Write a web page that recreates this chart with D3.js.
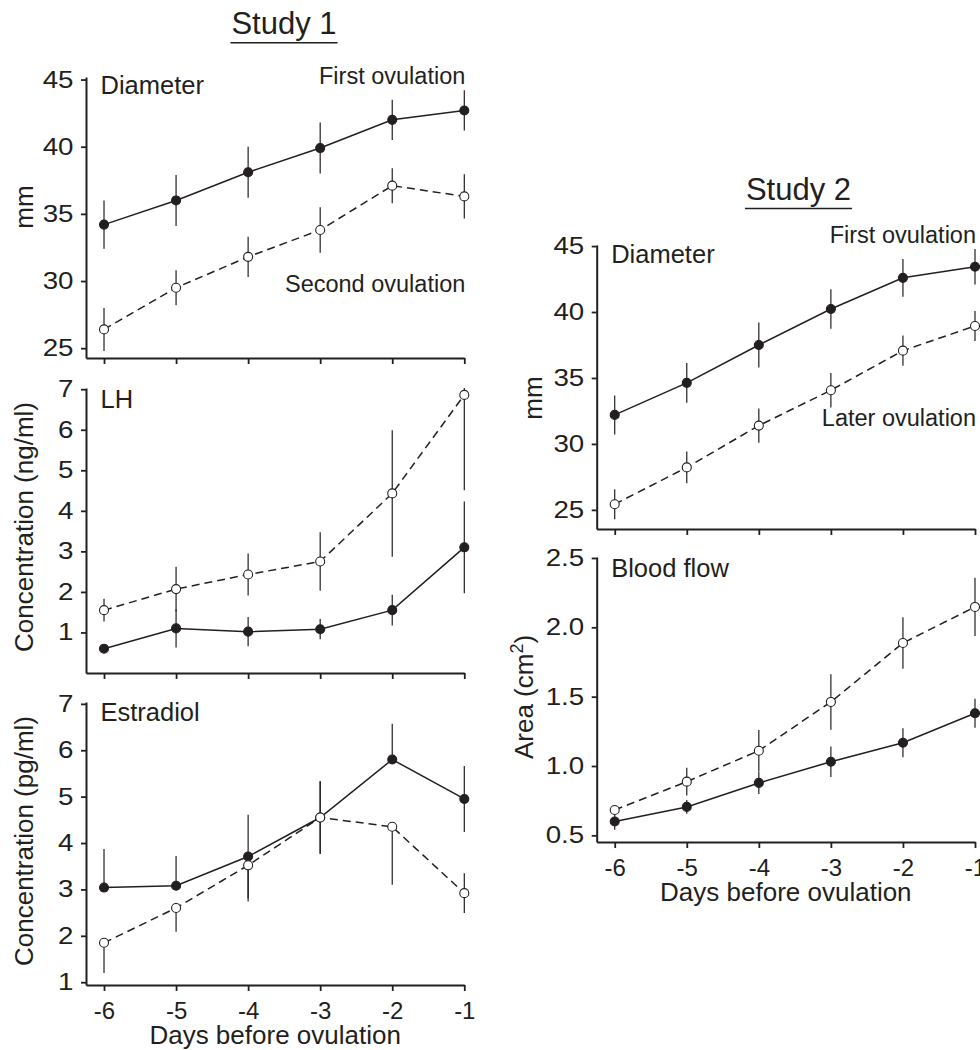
<!DOCTYPE html>
<html>
<head>
<meta charset="utf-8">
<script src="https://cdn.jsdelivr.net/npm/d3@7"></script>
<style>
  body { margin: 0; background: #fff; }
  svg text { font-family: "Liberation Sans", Arial, Helvetica, sans-serif; fill: #231f20; }
</style>
</head>
<body>
<div id="chart"></div>
<script>
/////////////////////////// data ///////////////////////////

const days = [-6, -5, -4, -3, -2, -1]
const diamTicks = [25, 30, 35, 40, 45]
const hormoneTicks = [1, 2, 3, 4, 5, 6, 7]
const flowTicks = [0.5, 1.0, 1.5, 2.0, 2.5]

// Study 1 - diameter (mm)
const s1DiamFirst = [34.2, 36.0, 38.1, 39.9, 42.0, 42.7]
const s1DiamFirstErr = [1.8, 1.9, 1.9, 1.9, 1.5, 1.5]
const s1DiamSecond = [26.4, 29.5, 31.8, 33.8, 37.1, 36.3]
const s1DiamSecondErr = [1.6, 1.3, 1.5, 1.7, 1.3, 1.65]

// Study 1 - LH (ng/ml)
const s1LhFirst = [0.6, 1.1, 1.02, 1.08, 1.55, 3.1]
const s1LhFirstErr = [0.05, 0.47, 0.36, 0.25, 0.38, 1.13]
const s1LhSecond = [1.55, 2.07, 2.43, 2.75, 4.43, 6.86]
const s1LhSecondErr = [0.28, 0.55, 0.52, 0.72, 1.56, 2.35]

// Study 1 - estradiol (pg/ml), bars drawn one side only where they overlap
const s1E2First = [3.04, 3.08, 3.71, 4.55, 5.8, 4.95]
const s1E2FirstUp = [0.83, 0.64, 0.9, 0.78, 0.77, 0.71]
const s1E2FirstDown = [0, 0, 0.9, 0.78, 0, 0.71]
const s1E2Second = [1.85, 2.6, 3.52, 4.55, 4.35, 2.92]
const s1E2SecondUp = [0, 0, 0, 0.78, 0, 0.43]
const s1E2SecondDown = [0.65, 0.51, 0.78, 0.78, 1.25, 0.43]

// Study 2 - diameter (mm)
const s2DiamFirst = [32.2, 34.63, 37.5, 40.23, 42.59, 43.43]
const s2DiamFirstErr = [1.48, 1.5, 1.7, 1.5, 1.43, 1.35]
const s2DiamLater = [25.43, 28.22, 31.39, 34.07, 37.07, 38.94]
const s2DiamLaterErr = [1.14, 1.2, 1.3, 1.3, 1.15, 1.13]

// Study 2 - blood flow area (cm2)
const s2FlowFirst = [0.6, 0.705, 0.878, 1.031, 1.168, 1.38]
const s2FlowFirstErr = [0.06, 0.05, 0.08, 0.11, 0.105, 0.105]
const s2FlowLater = [0.683, 0.887, 1.11, 1.462, 1.887, 2.147]
const s2FlowLaterErr = [0.03, 0.1, 0.15, 0.2, 0.185, 0.21]

/////////////////////////// layout ///////////////////////////

const W = 980, H = 1050
const ink = "#231f20"
const yStretch = 1.18   // y tick numbers in the source are drawn wider than normal

const svg = d3.select("#chart").append("svg")
    .attr("width", W)
    .attr("height", H)

svg.append("rect").attr("width", W).attr("height", H).attr("fill", "#fff")

const drawTitle = function(text, cx, baseline){
    const t = svg.append("text")
        .attr("x", cx).attr("y", baseline)
        .attr("text-anchor", "middle")
        .style("font-size", "31px")
        .text(text)
    const bb = t.node().getBBox()
    svg.append("line")
        .attr("x1", bb.x - 1).attr("x2", bb.x + bb.width + 1)
        .attr("y1", baseline + 8.5).attr("y2", baseline + 8.5)
        .attr("stroke", ink).attr("stroke-width", 1.6)
}

const series = (mean, up, down, open) =>
    days.map((d, i) => ({ day: d, v: mean[i], up: up[i], down: down[i], open: open }))

const drawPanel = function(p){
    const x = d3.scaleLinear().domain([-6.25, -1]).range(p.xr)
    const y = d3.scaleLinear().domain(p.dom).range(p.yr)
    const g = svg.append("g")

    // y axis
    const ya = g.append("g")
        .attr("transform", "translate(" + p.xr[0] + ",0)")
        .call(d3.axisLeft(y).tickValues(p.ticks).tickSize(5).tickPadding(7).tickSizeOuter(0)
            .tickFormat(p.fmt || (d => String(d))))
    // x axis
    const xa = g.append("g")
        .attr("transform", "translate(0," + p.yr[0] + ")")
        .call(d3.axisBottom(x).tickValues(days).tickSize(6).tickPadding(11).tickSizeOuter(0)
            .tickFormat(p.xlabels ? (d => String(d)) : ""))
    ;[ya, xa].forEach(a => {
        a.select(".domain").attr("stroke", ink).attr("stroke-width", 2)
        a.selectAll(".tick line").attr("stroke", ink).attr("stroke-width", 1.8)
        a.selectAll(".tick text").attr("fill", ink)
            .style("font-size", "24px")
        a.attr("font-family", null).attr("font-size", null)
    })
    ya.selectAll(".tick text")
        .style("font-size", "23.5px")
        .attr("x", -12.5 / yStretch)
        .attr("transform", "scale(" + yStretch + ",1)")

    // panel label and y title
    g.append("text")
        .attr("x", p.xr[0] + 14.5).attr("y", p.labelY)
        .style("font-size", "25.5px")
        .text(p.label)
    const yt = g.append("text")
        .attr("transform", "translate(" + p.titleX + "," + p.titleY + ") rotate(-90)")
        .attr("text-anchor", "middle")
        .style("font-size", "26px")
    if (p.sup) {
        yt.append("tspan").text(p.title)
        yt.append("tspan").attr("dy", -10).style("font-size", "18px").text(p.sup)
        yt.append("tspan").attr("dy", 10).text(")")
    } else {
        yt.text(p.title)
    }
    if (p.xlabels) {
        g.append("text")
            .attr("x", (p.xr[0] + p.xr[1]) / 2).attr("y", p.yr[0] + 59)
            .attr("text-anchor", "middle")
            .style("font-size", "26px")
            .text("Days before ovulation")
    }

    const [lo, hi] = p.dom
    const clamp = v => Math.max(lo, Math.min(hi, v))
    const all = p.series

    // error bars
    all.forEach(s => {
        g.selectAll(null).data(s.filter(d => d.up > 0 || d.down > 0)).enter()
            .append("line")
            .attr("x1", d => x(d.day)).attr("x2", d => x(d.day))
            .attr("y1", d => y(clamp(d.v + d.up)))
            .attr("y2", d => y(clamp(d.v - d.down)))
            .attr("stroke", ink).attr("stroke-width", 1.2)
    })

    // lines
    const line = d3.line().x(d => x(d.day)).y(d => y(d.v))
    all.forEach(s => {
        g.append("path").datum(s)
            .attr("d", line)
            .attr("fill", "none")
            .attr("stroke", ink)
            .attr("stroke-width", 1.5)
            .attr("stroke-dasharray", s[0].open ? "8,5" : null)
    })

    // markers, open ones last so they sit on top
    all.slice().sort((a, b) => a[0].open - b[0].open).forEach(s => {
        g.selectAll(null).data(s).enter()
            .append("circle")
            .attr("cx", d => x(d.day)).attr("cy", d => y(d.v))
            .attr("r", 4.5)
            .attr("fill", d => d.open ? "#fff" : ink)
            .attr("stroke", ink).attr("stroke-width", 1.1)
    })

    ;(p.notes || []).forEach(n => {
        g.append("text")
            .attr("x", p.xr[1] + 1).attr("y", n.y)
            .attr("text-anchor", "end")
            .style("font-size", "23.5px")
            .text(n.text)
    })
}

/////////////////////////// Study 1 ///////////////////////////

const xr1 = [86, 464.3]
drawTitle("Study 1", 284, 34.3)

drawPanel({
    xr: xr1, yr: [358, 77], dom: [24.27, 45.19], ticks: diamTicks,
    label: "Diameter", labelY: 94.3, title: "mm", titleX: 33, titleY: 207,
    series: [series(s1DiamFirst, s1DiamFirstErr, s1DiamFirstErr, false),
             series(s1DiamSecond, s1DiamSecondErr, s1DiamSecondErr, true)],
    notes: [{ text: "First ovulation", y: 84 }, { text: "Second ovulation", y: 292.3 }]
})

drawPanel({
    xr: xr1, yr: [673, 388], dom: [0, 7.03], ticks: hormoneTicks,
    label: "LH", labelY: 407.7, title: "Concentration (ng/ml)", titleX: 33, titleY: 527,
    series: [series(s1LhFirst, s1LhFirstErr, s1LhFirstErr, false),
             series(s1LhSecond, s1LhSecondErr, s1LhSecondErr, true)]
})

drawPanel({
    xr: xr1, yr: [985, 702], dom: [0.94, 7.04], ticks: hormoneTicks,
    label: "Estradiol", labelY: 720.7, title: "Concentration (pg/ml)", titleX: 33, titleY: 841,
    xlabels: true,
    series: [series(s1E2First, s1E2FirstUp, s1E2FirstDown, false),
             series(s1E2Second, s1E2SecondUp, s1E2SecondDown, true)]
})

/////////////////////////// Study 2 ///////////////////////////

const xr2 = [596.7, 975]
drawTitle("Study 2", 798.5, 200)

drawPanel({
    xr: xr2, yr: [529, 245], dom: [23.55, 45.08], ticks: diamTicks,
    label: "Diameter", labelY: 263.3, title: "mm", titleX: 542, titleY: 398,
    series: [series(s2DiamFirst, s2DiamFirstErr, s2DiamFirstErr, false),
             series(s2DiamLater, s2DiamLaterErr, s2DiamLaterErr, true)],
    notes: [{ text: "First ovulation", y: 242.7 }, { text: "Later ovulation", y: 425.7 }]
})

drawPanel({
    xr: xr2, yr: [842, 557], dom: [0.452, 2.507], ticks: flowTicks, fmt: d3.format(".1f"),
    label: "Blood flow", labelY: 576.7, title: "Area (cm", sup: "2", titleX: 533, titleY: 697,
    xlabels: true,
    series: [series(s2FlowFirst, s2FlowFirstErr, s2FlowFirstErr, false),
             series(s2FlowLater, s2FlowLaterErr, s2FlowLaterErr, true)]
})
</script>
</body>
</html>
